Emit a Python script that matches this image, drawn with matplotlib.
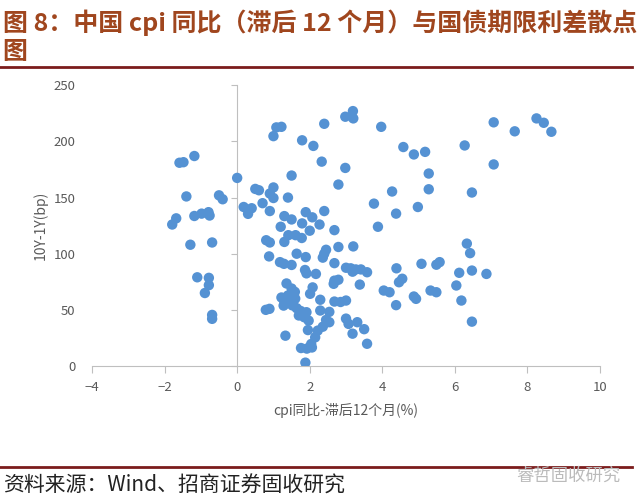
import matplotlib
matplotlib.use("Agg")
from matplotlib import pyplot as plt
from matplotlib.lines import Line2D

plt.rcParams['font.family'] = ['Noto Sans CJK SC', 'DejaVu Sans']

# cpi yoy (lagged 12m) vs 10Y-1Y spread
cpi_left = [-1.59, -1.48, -1.18, -1.40, -0.50, -0.40, -1.79, -1.68, -1.18, -0.98,
            -0.79, -0.76, -1.29, -0.69, -1.10, -0.78, -0.78, -0.89, -0.69, -0.69]
bp_left = [181, 181.5, 187, 151, 152, 148.5, 126, 131.5, 133.6, 135.7,
           137, 134, 108, 110, 79, 78.5, 72, 65, 45.5, 42]

cpi_top = [0.00, 0.18, 0.31, 0.40, 0.30, 3.19, 2.98, 3.20, 2.40, 1.08, 1.22, 1.00,
           1.79, 2.10, 3.97, 4.58, 2.33, 2.98, 1.50, 2.79, 0.50, 0.60, 1.00, 0.90,
           1.00, 1.40, 4.27, 3.77, 4.38, 0.70, 0.90, 1.30, 1.50, 1.89, 2.07, 2.40,
           1.79, 2.27, 1.20, 2.68, 3.88, 2.00]
bp_top = [167.5, 141.6, 139, 140.5, 135.5, 227, 222, 220.5, 215.7, 212.5, 213, 204.7,
          201, 196, 213, 195, 182, 176.4, 169.6, 161.6, 157.7, 156.5, 159, 153.6,
          149.6, 150, 155.4, 144.6, 135.7, 145, 138, 133.5, 130.5, 137, 132.4, 138,
          127, 126, 124, 121, 124, 120.5]

cpi_mid = [1.41, 1.61, 1.78, 1.30, 0.80, 0.90, 2.45, 2.40, 2.36, 2.79, 3.20, 0.88,
           1.64, 1.89, 1.18, 1.29, 1.50, 2.68, 1.87, 1.91, 2.17, 3.00, 3.13, 3.27,
           3.41, 3.58, 3.18, 4.39, 4.55, 4.46, 2.68, 2.79, 2.66, 3.38, 2.08, 1.36,
           1.50, 1.59, 2.01, 4.04, 4.20, 1.22, 1.30, 1.28, 1.40, 1.44, 1.52, 1.64,
           1.75, 1.91, 2.29, 2.68, 2.85, 3.00, 0.79, 0.89, 2.29, 2.54, 1.85, 1.97,
           1.95, 2.45, 2.54, 2.36, 2.22, 3.00, 3.07, 3.31, 3.50, 3.18, 3.58, 1.33,
           2.15, 2.04, 1.76, 1.92, 2.06, 1.88, 4.38, 1.35, 1.45, 1.55, 1.60, 1.70]
bp_mid = [116.5, 116.5, 114, 110.5, 112, 110, 103.5, 100, 96.5, 106, 106.5, 97.6,
          100, 97, 92.5, 91, 90, 91.6, 85.5, 82.5, 82, 87.5, 87, 86,
          86, 83.5, 84, 87, 77.7, 74.6, 76, 76.8, 73.2, 72.5, 70, 73.5,
          69, 66, 64.3, 67.2, 65.7, 61, 57.5, 53.8, 62.8, 56.8, 54, 51.5,
          49, 47.9, 59, 57.4, 57, 58.3, 50, 50.9, 49.4, 48.2, 43.4, 40.4,
          32, 41, 39, 35, 31.5, 42.2, 37.5, 39, 32.8, 28.8, 19.8, 27,
          25.5, 19.6, 16, 15.5, 16.5, 3, 54.2, 60, 62, 58, 60, 45]

cpi_right = [4.87, 5.18, 5.28, 5.28, 4.98, 6.27, 7.07, 7.07, 6.47, 7.65, 8.25, 8.45,
             8.66, 5.08, 5.49, 5.58, 4.87, 4.93, 5.33, 5.49, 6.33, 6.42, 6.12, 6.47,
             6.87, 6.04, 6.18, 6.47]
bp_right = [188.4, 190.7, 171.4, 157.4, 141.6, 196.4, 217, 179.5, 154.5, 209, 220.5, 216.6,
            208.6, 91, 90.2, 92.5, 61.9, 59.8, 67.2, 65.7, 109, 100.5, 83, 85,
            82, 71.7, 58.3, 39.5]

x_ticks = [-4, -2, 0, 2, 4, 6, 8, 10]
y_ticks = [0, 50, 100, 150, 200, 250]

cpi = cpi_left + cpi_top + cpi_mid + cpi_right
bp = bp_left + bp_top + bp_mid + bp_right

fig = plt.figure(figsize=(6.4, 5.04), dpi=100)
ax = fig.add_axes([0.1438, 0.2738, 0.7937, 0.557])

ax.scatter(cpi, bp, s=56, color='#5592D3', edgecolors='none', zorder=3)

ax.set_xlim(-4, 10)
ax.set_ylim(0, 250)
ax.set_xticks(x_ticks)
ax.set_yticks(y_ticks)

axis_grey = '#BFBFBF'
label_grey = '#595959'
for s in ['top', 'right', 'left']:
    ax.spines[s].set_visible(False)
ax.spines['bottom'].set_color(axis_grey)
ax.tick_params(axis='x', colors=axis_grey, labelcolor=label_grey, length=5,
               labelsize=9.5, pad=6)
ax.tick_params(axis='y', length=0, labelcolor=label_grey, labelsize=9.5, pad=12)

# vertical axis crossing at x=0, labels stay on the left edge
yax = ax.secondary_yaxis(4 / 14)
yax.set_yticks(y_ticks)
yax.set_yticklabels([])
yax.spines['left'].set_color(axis_grey)
yax.tick_params(axis='y', colors=axis_grey, length=4)

ax.set_xlabel('cpi同比-滞后12个月(%)', fontsize=10, color=label_grey, labelpad=6)
ax.set_ylabel('10Y-1Y(bp)', fontsize=10, color=label_grey, labelpad=4)

title_col = '#A0461E'
fig.text(0.004, 0.955, '图 8：中国 cpi 同比（滞后 12 个月）与国债期限利差散点',
         fontsize=18, fontweight='bold', color=title_col, va='center', ha='left')
fig.text(0.004, 0.897, '图', fontsize=18, fontweight='bold', color=title_col,
         va='center', ha='left')
fig.add_artist(Line2D([0, 0.988], [0.867, 0.867], color='#7B1C1C', lw=2))
fig.add_artist(Line2D([0, 0.988], [0.073, 0.073], color='#7B1C1C', lw=2))

fig.text(0.004, 0.036, '资料来源：Wind、招商证券固收研究', fontsize=15,
         color='#222222', va='center', ha='left')
fig.text(0.97, 0.056, '睿哲固收研究', fontsize=12.5, color='#BBBBBB',
         va='center', ha='right')

plt.savefig('out.png', dpi=100)
